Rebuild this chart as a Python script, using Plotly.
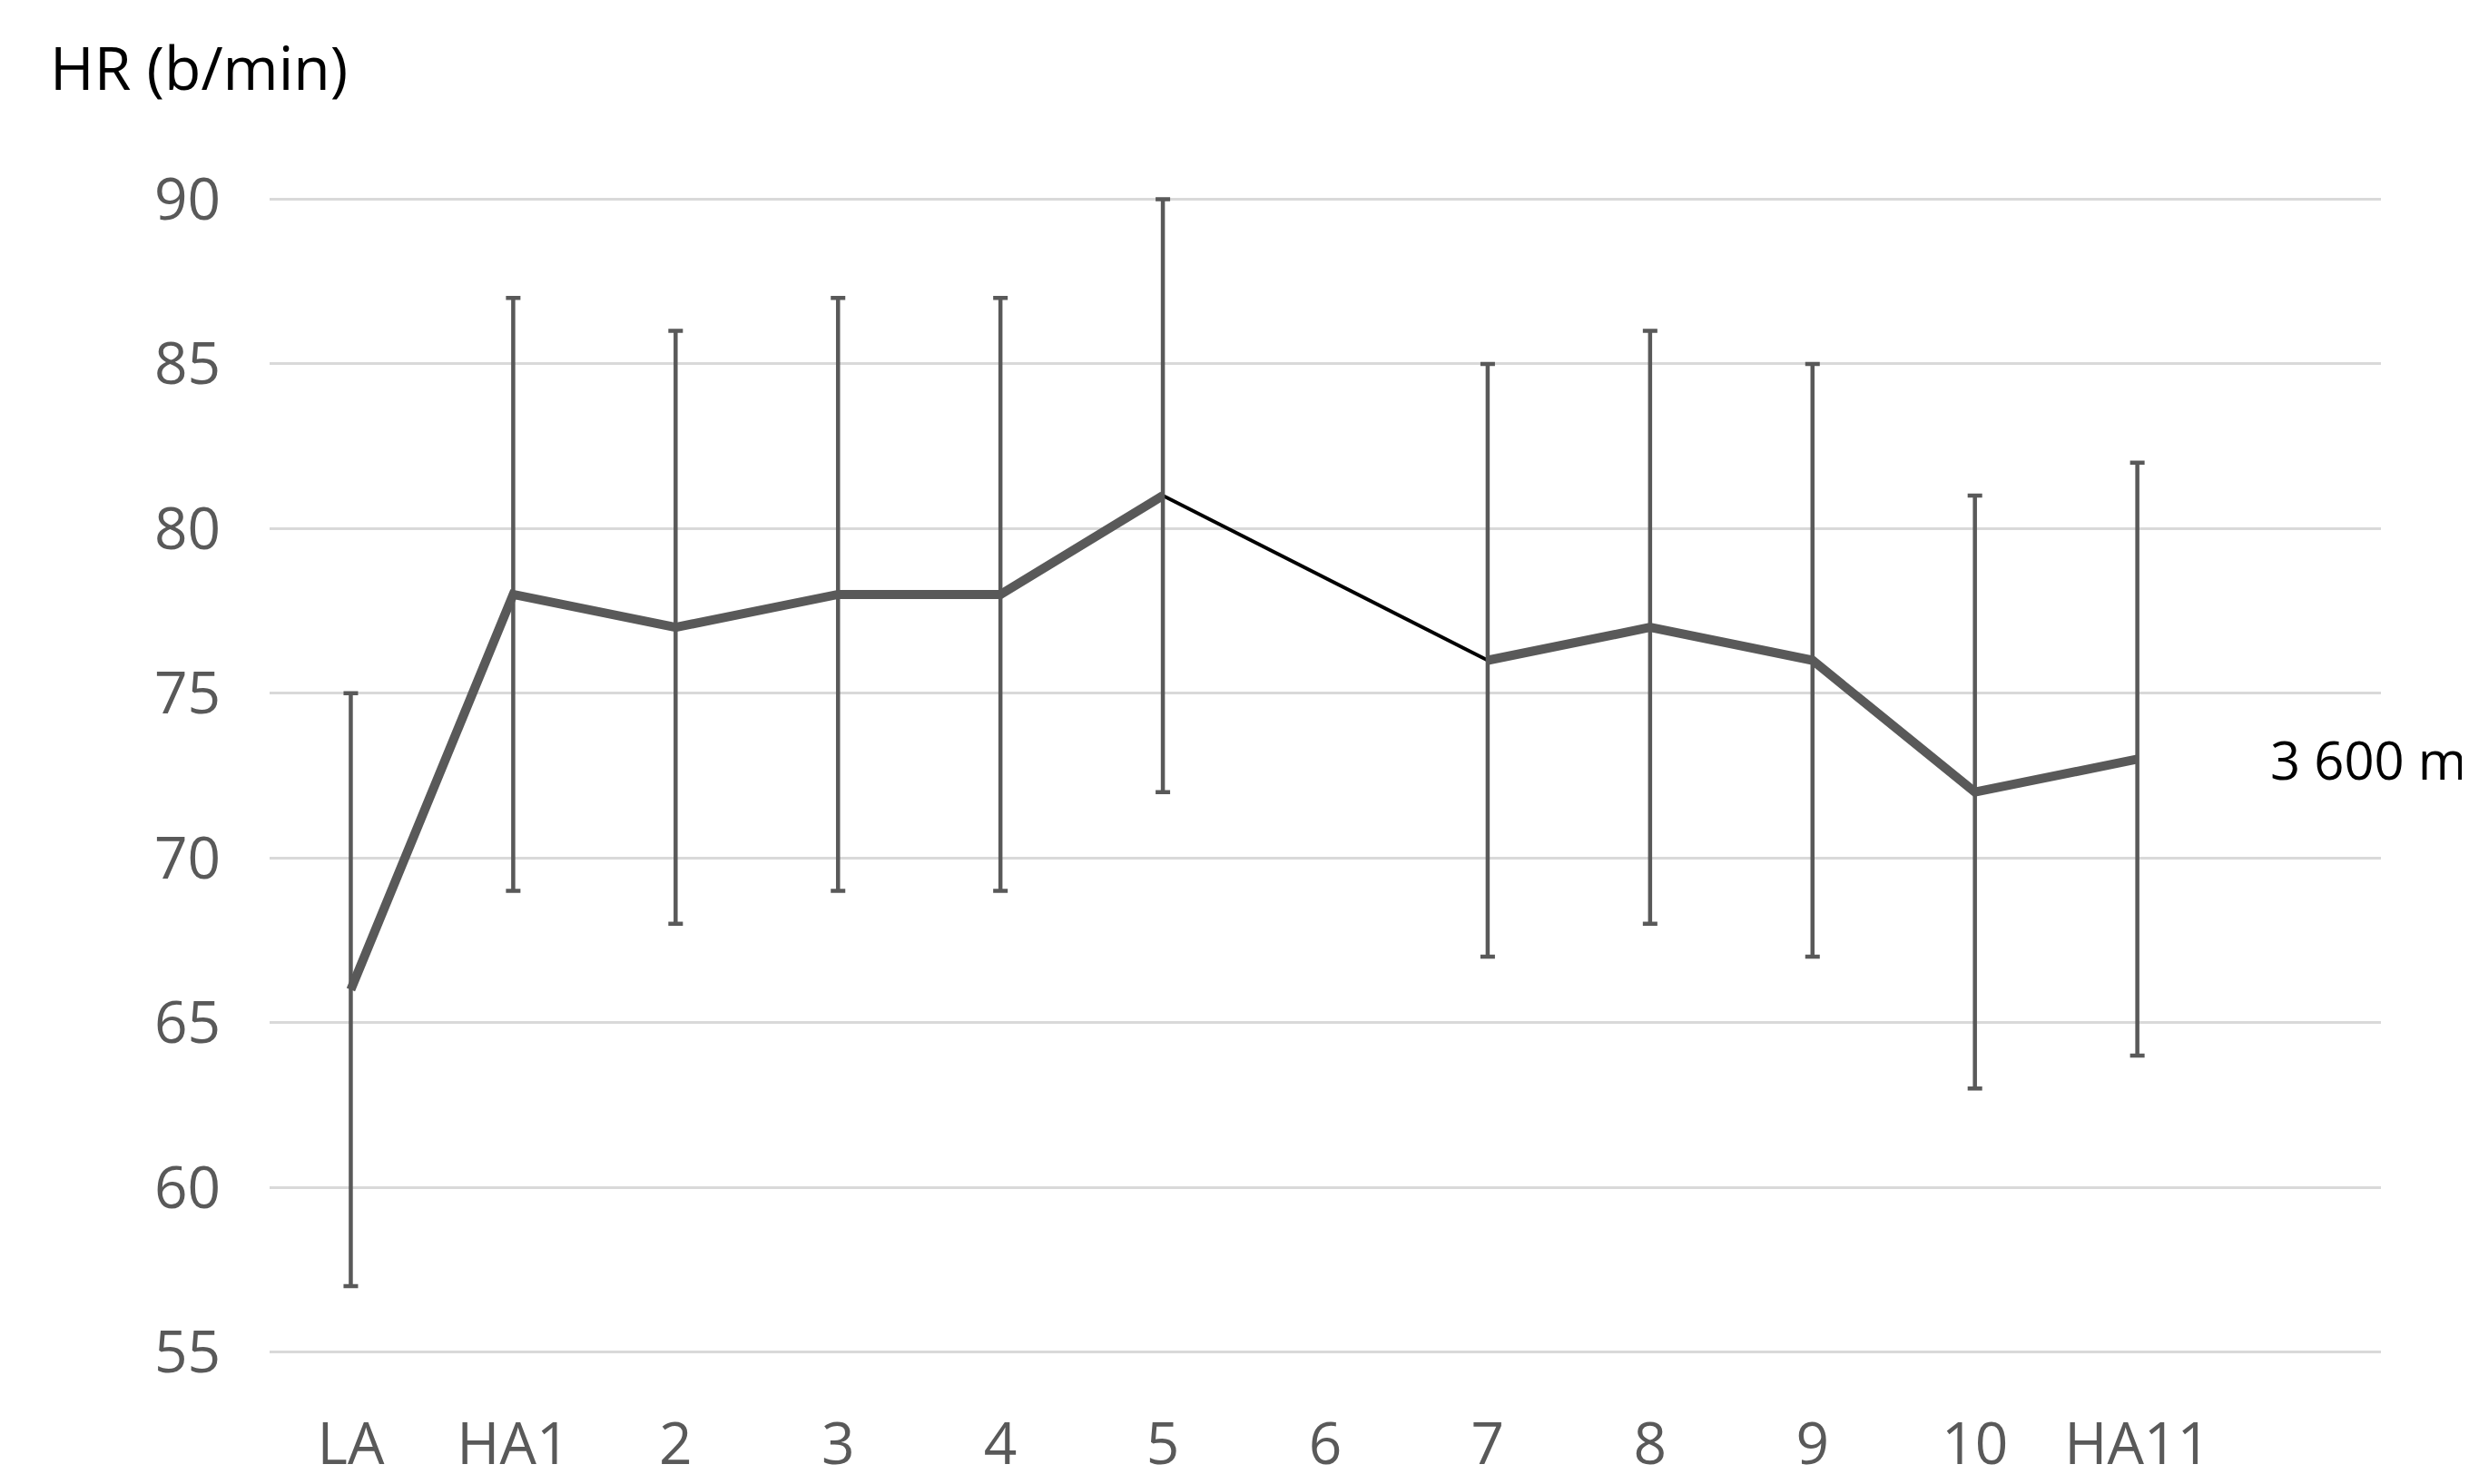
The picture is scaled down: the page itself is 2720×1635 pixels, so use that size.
import plotly.graph_objects as go

categories = ["LA", "HA1", "2", "3", "4", "5", "6", "7", "8", "9", "10", "HA11"]
hr_mean = [66, 78, 77, 78, 78, 81, None, 76, 77, 76, 72, 73]
hr_sd = [9, 9, 9, 9, 9, 9, None, 9, 9, 9, 9, 9]
y_ticks = [55, 60, 65, 70, 75, 80, 85, 90]

xs = list(range(len(categories)))
grey = "#595959"
fig = go.Figure()
# thin connector across the missing point
fig.add_trace(go.Scatter(x=[5, 7], y=[hr_mean[5], hr_mean[7]], mode="lines",
                         line=dict(color="black", width=4), showlegend=False))
fig.add_trace(go.Scatter(x=xs, y=hr_mean, mode="lines",
                         line=dict(color=grey, width=10), showlegend=False,
                         error_y=dict(type="data", array=hr_sd, color=grey,
                                      thickness=4.5, width=8)))
fig.add_annotation(text="HR (b/min)", xref="paper", yref="paper", x=-0.105, y=1.11,
                   xanchor="left", yanchor="middle", showarrow=False,
                   font=dict(size=66, color="black"))
fig.add_annotation(text="3 600 m", x=0.994, y=73, xref="paper", yref="y",
                   xanchor="center", showarrow=False, font=dict(size=58, color="black"))
fig.update_layout(
    width=2720, height=1635, plot_bgcolor="white", paper_bgcolor="white",
    margin=dict(l=289, r=105, t=206, b=148),
    font=dict(family="Open Sans, Liberation Sans, sans-serif", color=grey, size=64),
    xaxis=dict(tickmode="array", tickvals=xs, ticktext=categories, range=[-0.5, 12.5],
               showgrid=False, zeroline=False, showline=False, ticks="outside",
               ticklen=40, tickcolor="white", tickfont=dict(size=64, color=grey)),
    yaxis=dict(range=[54.85, 90.15], tickvals=y_ticks, showgrid=True, gridcolor="#d9d9d9",
               gridwidth=3, zeroline=False, showline=False, ticks="outside",
               ticklen=40, tickcolor="white", tickfont=dict(size=64, color=grey)),
)
fig.write_html("out.html")
